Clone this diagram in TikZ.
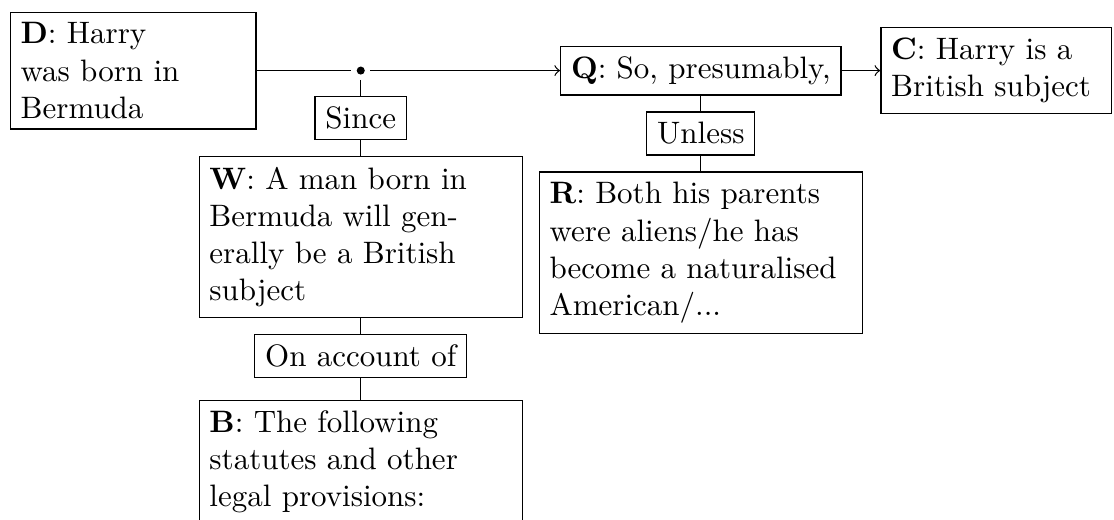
\documentclass[tikz,border=0pt]{standalone}
\usetikzlibrary{positioning}
\begin{document}
\begin{tikzpicture}[node distance=0.18cm,
    box/.style={draw, align=left},
    word/.style={draw},
    dotnode/.style={circle, fill, inner sep=0pt, minimum size=2.6pt, outer sep=1.7pt}]
        \useasboundingbox (0,0) rectangle (12.63,-5.885);

        \node[box, text width=2.55cm, anchor=west] (d) at (0.11,-0.80) {\textbf{D}: Harry\\ was born in\\ Bermuda};
        \node[dotnode] (m) at (4.09,-0.80) {};
        \node[box, anchor=west] (q) at (6.35,-0.80) {\textbf{Q}: So, presumably,};
        \node[box, text width=2.38cm, anchor=west] (c) at (9.98,-0.80) {\textbf{C}: Harry is a\\ British subject};

        \node[word, below=of m] (since) {Since};
        \node[box, text width=3.43cm, below=of since] (w) {\textbf{W}: A man born in\\ Bermuda will gen-\\ erally be a British\\ subject};
        \node[word, below=of w] (acct) {On account of};
        \node[box, text width=3.43cm, below=0.24cm of acct] (b) {\textbf{B}: The following\\ statutes and other\\ legal provisions:};

        \node[word, below=of q] (unless) {Unless};
        \node[box, text width=3.43cm, below=of unless] (r) {\textbf{R}: Both his parents\\ were aliens/he has\\ become a naturalised\\ American/...};

        \draw (d) -- (m);
        \draw[->] (m) -- (q);
        \draw[->] (q) -- (c);

        \draw (m) -- (since);
        \draw (since) -- (w);
        \draw (w) -- (acct);
        \draw (acct) -- (b);

        \draw (q) -- (unless);
        \draw (unless) -- (r);

      \end{tikzpicture}
\end{document}
